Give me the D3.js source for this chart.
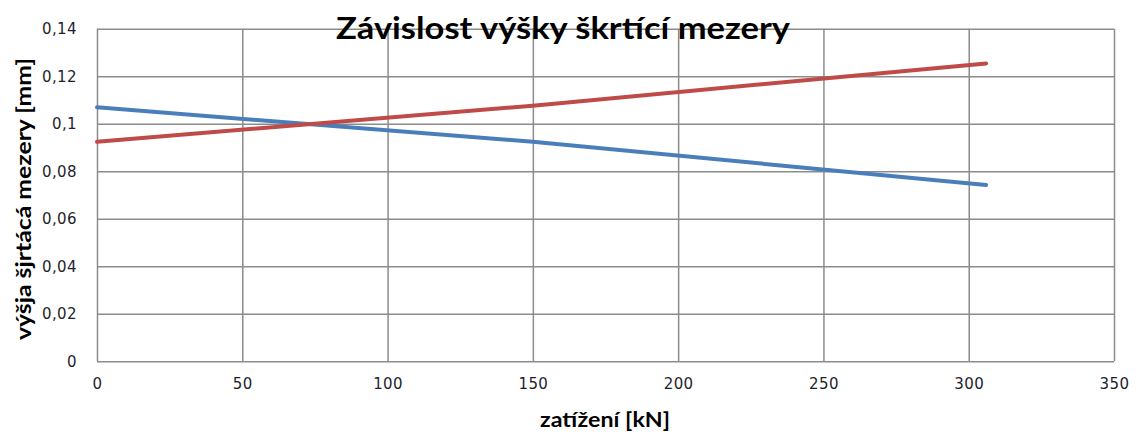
<!DOCTYPE html>
<html>
<head>
<meta charset="utf-8">
<script src="https://cdn.jsdelivr.net/npm/d3@7"></script>
<style>
  html, body { margin: 0; padding: 0; background: #fff; }
  svg { display: block; }
</style>
</head>
<body>
<svg id="chart" width="1143" height="432"></svg>
<script>
// Load on the throttle gap [kN] and the resulting gap height [mm]
const loads = [0, 150, 306];
const blueSeries = [0.1069, 0.0924, 0.0742];
const redSeries  = [0.0924, 0.1076, 0.1254];
const xTicks = [0, 50, 100, 150, 200, 250, 300, 350];
const yTicks = [0, 0.02, 0.04, 0.06, 0.08, 0.1, 0.12, 0.14];

const titleText = "Závislost výšky škrtící mezery";
const xTitle = "zatížení [kN]";
const yTitle = "výšja šjrtácá mezery [mm]";

const svg = d3.select("#chart");
const plot = { left: 97, right: 1114, top: 28.7, bottom: 361.3 };

const x = d3.scaleLinear().domain([0, 350]).range([plot.left, plot.right]);
const y = d3.scaleLinear().domain([0, 0.14]).range([plot.bottom, plot.top]);

const fmt = v => String(+v.toFixed(2)).replace(".", ",");
const gridColor = "#8c8c8c";
const tickFont = sel => sel.attr("fill", "#1e1e2e")
  .style("font-family", "DejaVu Sans").style("font-size", "15px").style("letter-spacing", "0.4px");

// vertical grid + x labels
const xAxis = d3.axisBottom(x).tickValues(xTicks).tickSize(-(plot.bottom - plot.top)).tickPadding(17).tickFormat(d => d);
const gx = svg.append("g").attr("transform", `translate(0,${plot.bottom})`).call(xAxis);
gx.select(".domain").remove();
gx.selectAll("line").attr("stroke", gridColor).attr("stroke-width", 1.5);
gx.selectAll("text").call(tickFont);

// horizontal grid + y labels
const yAxis = d3.axisLeft(y).tickValues(yTicks).tickSize(-(plot.right - plot.left)).tickPadding(20).tickFormat(fmt);
const gy = svg.append("g").attr("transform", `translate(${plot.left},0)`).call(yAxis);
gy.select(".domain").remove();
gy.selectAll("line").attr("stroke", gridColor).attr("stroke-width", 1.5);
gy.selectAll("text").call(tickFont);

// series lines
const line = d3.line().x((d, i) => x(loads[i])).y(d => y(d));
svg.append("path").datum(blueSeries).attr("d", line)
  .attr("fill", "none").attr("stroke", "#4a7ebb").attr("stroke-width", 4).attr("stroke-linecap", "round");
svg.append("path").datum(redSeries).attr("d", line)
  .attr("fill", "none").attr("stroke", "#be4b48").attr("stroke-width", 4).attr("stroke-linecap", "round");

// title
svg.append("text").attr("x", 336).attr("y", 39)
  .attr("textLength", 454).attr("lengthAdjust", "spacingAndGlyphs")
  .style("font-family", "Lato").style("font-weight", "bold").style("font-size", "30px")
  .attr("fill", "#000").text(titleText);

// axis titles
svg.append("text").attr("x", 540).attr("y", 427)
  .attr("textLength", 130).attr("lengthAdjust", "spacingAndGlyphs")
  .style("font-family", "Lato").style("font-weight", "bold").style("font-size", "21px")
  .attr("fill", "#000").text(xTitle);

svg.append("text").attr("transform", "translate(31,340) rotate(-90)")
  .attr("textLength", 282).attr("lengthAdjust", "spacingAndGlyphs")
  .style("font-family", "Lato").style("font-weight", "bold").style("font-size", "21px")
  .attr("fill", "#000").text(yTitle);
</script>
</body>
</html>
